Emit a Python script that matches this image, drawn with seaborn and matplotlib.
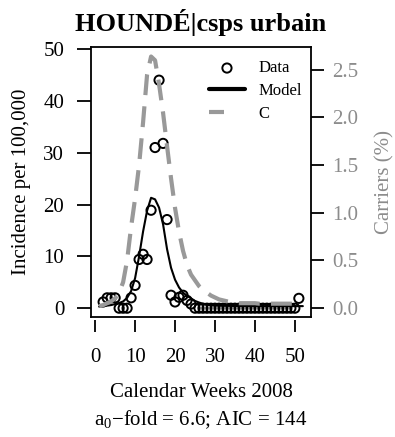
import numpy as np
import pandas as pd
import matplotlib
matplotlib.use("Agg")
import matplotlib.pyplot as plt
import seaborn as sns

# ---- data ----
data_weeks = list(range(2, 52))
data_incidence = [1.2, 2.0, 2.0, 2.0, 0.0, 0.0, 0.0, 2.0, 4.4, 9.4,
                  10.4, 9.4, 18.9, 31.0, 44.0, 31.8, 17.1, 2.5, 1.2, 2.1,
                  2.5, 1.5, 0.8] + [0.0] * 26 + [1.9]

model_weeks = list(range(1, 53))
model_incidence = [0.3, 0.4, 0.5, 0.6, 0.8, 1.0, 1.3, 2.0, 3.3, 5.8,
                   10.0, 14.8, 18.8, 21.3, 21.0, 19.4, 16.2, 11.4, 7.8, 5.5,
                   4.0, 3.0, 2.4, 1.9, 1.4, 1.1, 0.85, 0.65, 0.55, 0.5,
                   0.48, 0.46, 0.45, 0.44, 0.43, 0.42, 0.42, 0.41, 0.41, 0.40,
                   0.40, 0.40, 0.40, 0.40, 0.40, 0.40, 0.40, 0.40, 0.40, 0.40,
                   0.40, 0.40]

carriers = [0.02, 0.03, 0.05, 0.07, 0.10, 0.16, 0.27, 0.50, 0.85, 1.15,
            1.50, 1.95, 2.45, 2.64, 2.60, 2.35, 2.05, 1.70, 1.36, 1.05,
            0.80, 0.60, 0.45, 0.35, 0.29, 0.23, 0.19, 0.16, 0.13, 0.11,
            0.09, 0.08, 0.07, 0.06, 0.055, 0.05, 0.05, 0.05, 0.05, 0.05,
            0.045, 0.045, 0.045, 0.045, 0.045, 0.045, 0.045, 0.045, 0.045, 0.045,
            0.045, 0.045]

left_ticks = [0, 10, 20, 30, 40, 50]
right_ticks = [0.0, 0.5, 1.0, 1.5, 2.0, 2.5]
x_ticks = [0, 10, 20, 30, 40, 50]

title = "HOUNDÉ|csps urbain"
xlabel = "Calendar Weeks 2008"
ylabel = "Incidence per 100,000"
ylabel2 = "Carriers (%)"
subtitle = r"$\mathrm{a}_0$−fold = 6.6; AIC = 144"

df_data = pd.DataFrame({"week": data_weeks, "inc": data_incidence})
df_model = pd.DataFrame({"week": model_weeks, "inc": model_incidence, "car": carriers})

# ---- style ----
sns.set_theme(style="white")
plt.rcParams["font.family"] = ["Liberation Serif", "DejaVu Serif"]
plt.rcParams["mathtext.fontset"] = "custom"
plt.rcParams["mathtext.rm"] = "Liberation Serif"
plt.rcParams["mathtext.it"] = "Liberation Serif:italic"
plt.rcParams["axes.unicode_minus"] = True
for k in ["text.color", "axes.labelcolor", "xtick.color", "ytick.color", "axes.edgecolor"]:
    plt.rcParams[k] = "black"

GRAY = "#999999"
GRAY_TXT = "#8c8c8c"
FS = 15

fig = plt.figure(figsize=(3.95, 4.37), dpi=100)
ax = fig.add_axes([91 / 395, 1 - 317 / 437, 220 / 395, 270 / 437])
ax2 = ax.twinx()

sns.lineplot(data=df_model, x="week", y="inc", ax=ax, color="black", lw=1.5,
             label="Model", legend=False)
sns.scatterplot(data=df_data, x="week", y="inc", ax=ax, marker="o", s=44,
                facecolor="none", edgecolor="black", linewidth=1.4,
                label="Data", legend=False, zorder=3)
sns.lineplot(data=df_model, x="week", y="car", ax=ax2, color=GRAY, lw=3,
             label="C", legend=False)
ax2.get_lines()[0].set_dashes([5, 2.7])

ax.set_xlim(-1.04, 54.04)
ax.set_ylim(-1.7, 50.4)
ax2.set_ylim(-0.095, 2.74)

ax.set_xticks(x_ticks)
ax.set_yticks(left_ticks)
ax.set_yticklabels([str(v) for v in left_ticks])
ax2.set_yticks(right_ticks)
ax2.set_yticklabels([f"{v:.1f}" for v in right_ticks])

ax.tick_params(axis="x", direction="out", length=8.8, width=1.3, pad=11.5,
               labelsize=FS, bottom=True, colors="black")
ax.tick_params(axis="y", direction="out", length=9.8, width=1.3, pad=9.5,
               labelsize=FS, left=True, colors="black")
ax2.tick_params(axis="y", direction="out", length=9.6, width=1.3, pad=5.5,
                labelsize=FS, right=True, color="black", labelcolor=GRAY_TXT)

for s in ax.spines.values():
    s.set_visible(False)
ax.spines["bottom"].set_position(("outward", 2.2))
for s in ax2.spines.values():
    s.set_visible(True)
    s.set_color("black")
    s.set_linewidth(1.3)

ax.set_title(title, fontsize=19, fontweight="bold", pad=11.5, color="black")
ax.set_xlabel(xlabel, fontsize=FS, labelpad=11)
ax.set_ylabel(ylabel, fontsize=FS, labelpad=9)
ax2.set_ylabel(ylabel2, fontsize=FS, labelpad=12.5, color=GRAY_TXT)
fig.text(201 / 395, 1 - 420 / 437, subtitle, fontsize=FS, ha="center", va="center")

h1, l1 = ax.get_legend_handles_labels()
h2, l2 = ax2.get_legend_handles_labels()
hd = dict(zip(l1 + l2, h1 + h2))
order = ["Data", "Model", "C"]
leg = ax.legend([hd[k] for k in order], order, loc="upper right", frameon=False,
                fontsize=12, labelspacing=0.4, handlelength=2.2, handletextpad=0.8,
                borderaxespad=0.0, borderpad=0.4, bbox_to_anchor=(0.99, 0.975))
leg_lines = leg.get_lines()
for line in leg_lines:
    line.set_linewidth(3)
leg_lines[-1].set_linestyle((0, (3.6, 20)))
leg.set_zorder(5)

fig.savefig("out.png", dpi=100)
